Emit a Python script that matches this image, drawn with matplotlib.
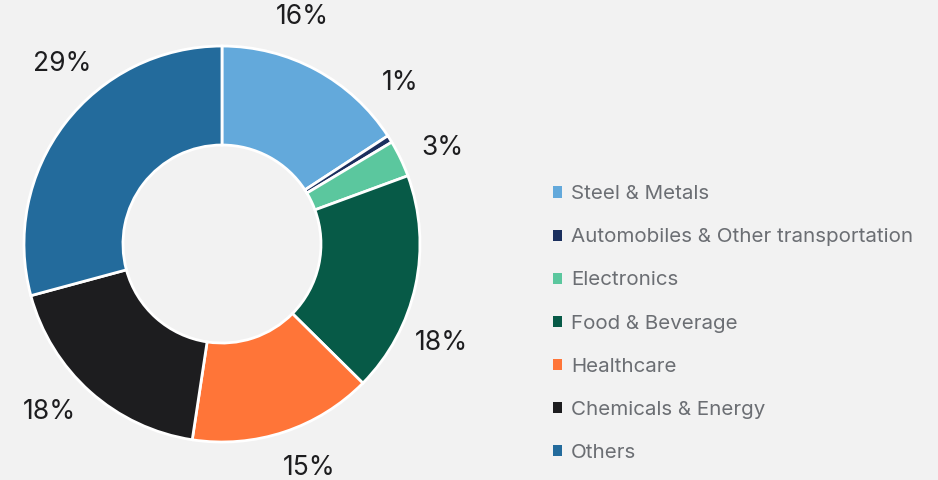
import numpy as np
import matplotlib.pyplot as plt
from matplotlib.patches import Patch

# shares of each sector (%)
sectors = ["Steel & Metals", "Automobiles & Other transportation", "Electronics",
           "Food & Beverage", "Healthcare", "Chemicals & Energy", "Others"]
shares = [15.8, 0.6, 3.0, 18.0, 15.0, 18.4, 29.2]
pct_labels = ["16%", "1%", "3%", "18%", "15%", "18%", "29%"]
colors = ["#63a9db", "#1b2f5e", "#5bc79e", "#075a47", "#ff7538", "#1d1d1f", "#236b9c"]
# how far each label is nudged from its slice middle (degrees, clockwise)
label_shift = [-9, -10, 2, 12, -3, 4, 11]

bg = "#f2f2f2"
plt.rcParams['font.family'] = ['Inter', 'DejaVu Sans']

fig = plt.figure(figsize=(9.38, 4.8), dpi=100, facecolor=bg)
ax = fig.add_axes([-0.0272, -0.024, 0.5277, 1.03125])
ax.set_facecolor(bg)

wedges, _ = ax.pie(shares, colors=colors, startangle=90, counterclock=False,
                   radius=1, wedgeprops=dict(width=0.5, edgecolor="white", linewidth=2))

for w, lab, sh in zip(wedges, pct_labels, label_shift):
    mid = (w.theta1 + w.theta2) / 2 - sh
    a = np.deg2rad(mid)
    ax.text(1.215 * np.cos(a), 1.215 * np.sin(a), lab, ha="center", va="center",
            fontsize=19, color="#1d1d1f")

ax.set_xlim(-1.25, 1.25)
ax.set_ylim(-1.25, 1.25)
ax.set_aspect("equal")
ax.axis("off")

handles = [Patch(facecolor=c, edgecolor="none") for c in colors]
leg = fig.legend(handles, sectors, loc="upper left", bbox_to_anchor=(0.5805, 0.631),
                 frameon=False, fontsize=14.8, handlelength=0.45, handleheight=0.45,
                 handletextpad=0.45, labelspacing=1.22, borderaxespad=0)
for t in leg.get_texts():
    t.set_color("#6b6e73")

fig.savefig("out.png", dpi=100, facecolor=bg)
